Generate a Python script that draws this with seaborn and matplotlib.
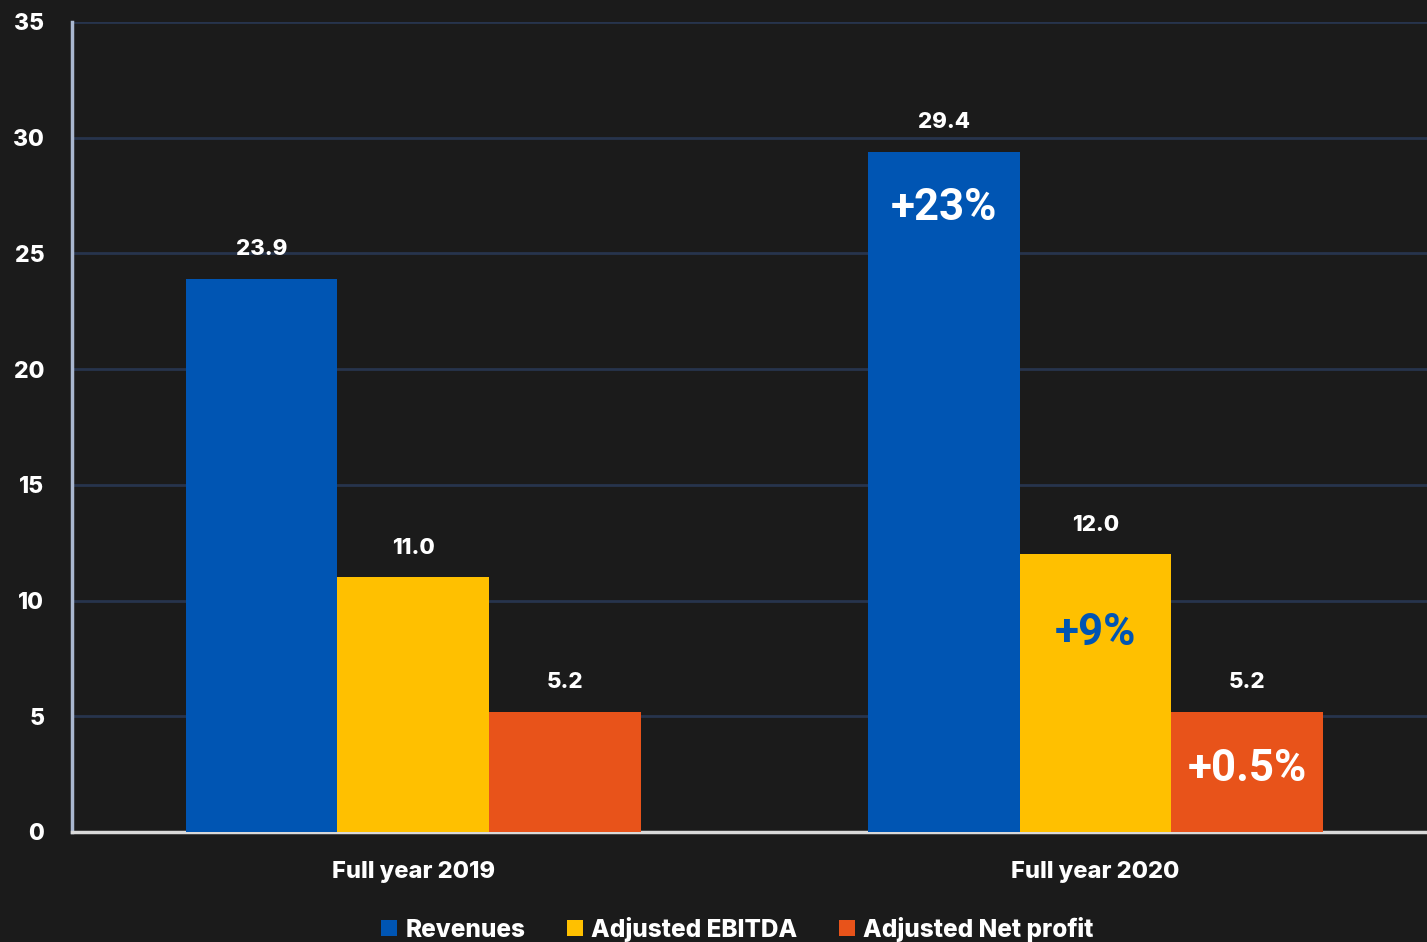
import matplotlib
matplotlib.use("Agg")
import matplotlib.pyplot as plt
import seaborn as sns
import pandas as pd

# ---- data -------------------------------------------------------------
periods = ["Full year 2019", "Full year 2020"]
metrics = ["Revenues", "Adjusted EBITDA", "Adjusted Net profit"]
revenues = [23.9, 29.4]
ebitda = [11.0, 12.0]
net_profit = [5.2, 5.2]
growth_labels = ["+23%", "+9%", "+0.5%"]
y_ticks = [0, 5, 10, 15, 20, 25, 30, 35]

colors = ["#0055b3", "#ffc000", "#e8531a"]
growth_colors = ["#ffffff", "#0055b3", "#ffffff"]

df = pd.DataFrame({
    "period": periods * 3,
    "metric": [m for m in metrics for _ in periods],
    "value": revenues + ebitda + net_profit,
})

bg = "#1b1b1b"
heavy = "heavy"
sns.set_theme(style="dark")
plt.rcParams["font.family"] = ["Inter", "DejaVu Sans"]
plt.rcParams["font.weight"] = heavy

fig = plt.figure(figsize=(14.27, 9.42), dpi=100, facecolor=bg)
ax = fig.add_axes([72 / 1427, 110 / 942, 1355 / 1427, 810 / 942])
ax.set_facecolor(bg)

sns.barplot(data=df, x="period", y="value", hue="metric", hue_order=metrics,
            palette=colors, width=0.667, saturation=1, gap=0, ax=ax,
            edgecolor="none", linewidth=0, zorder=3)

ax.set_ylim(0, 35)
ax.set_xlim(-0.5, 1.486)
ax.set_yticks(y_ticks)
ax.set_yticklabels([str(t) for t in y_ticks])
ax.set_xlabel("")
ax.set_ylabel("")

ax.grid(axis="y", color="#27344d", linewidth=2)
ax.grid(axis="x", visible=False)
ax.set_axisbelow(True)

for side in ["top", "right"]:
    ax.spines[side].set_visible(False)
ax.spines["left"].set_color("#a9b7d0")
ax.spines["left"].set_linewidth(2.5)
ax.spines["bottom"].set_color("#d9d9d9")
ax.spines["bottom"].set_linewidth(2.5)

ax.tick_params(axis="y", length=0, pad=20, labelsize=16.5, labelcolor="white")
ax.tick_params(axis="x", length=0, pad=21, labelsize=17, labelcolor="white")
for lbl in ax.get_xticklabels() + ax.get_yticklabels():
    lbl.set_fontweight(heavy)

# value labels above each bar
for cont in ax.containers:
    ax.bar_label(cont, fmt="%.1f", padding=14, color="white", fontsize=16,
                 fontweight=heavy)

# growth labels inside the 2020 bars (offset below bar top, in pixels)
growth_offsets = [-56, -79, -57]
for cont, text, col, off in zip(ax.containers, growth_labels, growth_colors, growth_offsets):
    bar = cont.patches[1]
    cx = bar.get_x() + bar.get_width() / 2
    ax.annotate(text, xy=(cx, bar.get_height()), xytext=(0, off * 72 / 100),
                textcoords="offset points", ha="center", va="center",
                color=col, fontsize=31.5, fontweight="bold",
                family=["Roboto", "DejaVu Sans"], zorder=5)

sns.move_legend(ax, "center", bbox_to_anchor=(0.491, -0.12), ncol=3,
                frameon=False, title=None, fontsize=17.5, handlelength=0.65,
                handleheight=0.65, handletextpad=0.35, columnspacing=1.7,
                labelcolor="white")
for t in ax.get_legend().get_texts():
    t.set_fontweight(heavy)

fig.savefig("out.png", dpi=100, facecolor=bg)
